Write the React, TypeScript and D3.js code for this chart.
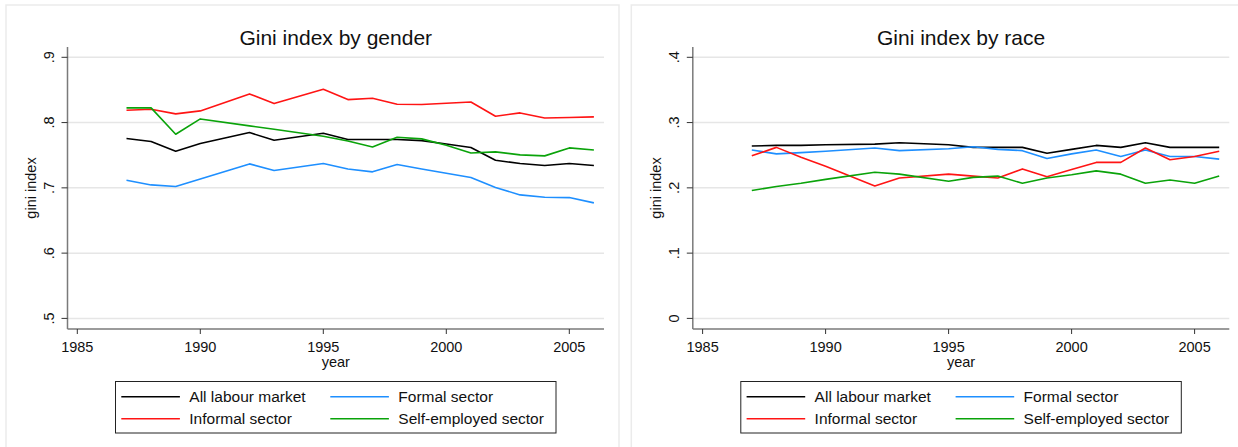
import React from 'react'
import * as d3 from 'd3'

// years with data (1991 and 1994 have no survey point)
const years = [1987, 1988, 1989, 1990, 1992, 1993, 1995, 1996, 1997, 1998, 1999, 2000, 2001, 2002, 2003, 2004, 2005, 2006]

const seriesNames = ['All labour market', 'Formal sector', 'Informal sector', 'Self-employed sector']
const seriesColors = ['#000000', '#1e8fff', '#ff1414', '#0aa30a']

// Gini index by gender
const genderAll = [0.7755, 0.7709, 0.7561, 0.7678, 0.7847, 0.7729, 0.7837, 0.774, 0.774, 0.774, 0.7724, 0.7673, 0.7617, 0.7423, 0.7372, 0.7342, 0.7372, 0.7342]
const genderFormal = [0.7117, 0.7045, 0.702, 0.7137, 0.7367, 0.7265, 0.7372, 0.729, 0.7245, 0.7357, 0.729, 0.7224, 0.7158, 0.7005, 0.6892, 0.6857, 0.6851, 0.677]
const genderInformal = [0.8189, 0.8204, 0.8133, 0.8179, 0.8439, 0.8291, 0.851, 0.8352, 0.8373, 0.8281, 0.8276, 0.8296, 0.8316, 0.8097, 0.8148, 0.8071, 0.8077, 0.8087]
const genderSelf = [0.8225, 0.8225, 0.7821, 0.8056, 0.7949, 0.7898, 0.7791, 0.7719, 0.7627, 0.7775, 0.775, 0.7653, 0.7535, 0.7551, 0.7505, 0.749, 0.7612, 0.7581]

// Gini index by race
const raceAll = [0.264, 0.265, 0.265, 0.266, 0.267, 0.269, 0.266, 0.262, 0.262, 0.262, 0.253, 0.259, 0.265, 0.262, 0.269, 0.262, 0.262, 0.262]
const raceFormal = [0.258, 0.252, 0.254, 0.256, 0.261, 0.257, 0.26, 0.263, 0.259, 0.257, 0.245, 0.252, 0.258, 0.248, 0.258, 0.248, 0.248, 0.244]
const raceInformal = [0.249, 0.262, 0.247, 0.233, 0.203, 0.215, 0.221, 0.218, 0.215, 0.229, 0.217, 0.228, 0.239, 0.239, 0.261, 0.243, 0.248, 0.256]
const raceSelf = [0.196, 0.202, 0.207, 0.213, 0.224, 0.221, 0.21, 0.216, 0.218, 0.207, 0.215, 0.22, 0.226, 0.221, 0.207, 0.212, 0.207, 0.218]

const xTicks = [1985, 1990, 1995, 2000, 2005]
const genderTicks = [0.5, 0.6, 0.7, 0.8, 0.9]
const raceTicks = [0, 0.1, 0.2, 0.3, 0.4]

const FONT = '"Liberation Sans", Arial, sans-serif'

// plot frame (panel coords)
const plotLeft = 67.5
const plotRight = 604
const plotTop = 47
const plotBottom = 329

function fmtTick(v) {
    // stata style: .9, .8 ... and 0
    if (v === 0) return '0'
    return d3.format('.1f')(v).replace(/^0/, '')
}

function Panel({ ox, title, ticks, series }) {
    const x = d3.scaleLinear().domain([1985, 2005]).range([77.3, 569.3])
    const y = d3.scaleLinear().domain([ticks[0], ticks[ticks.length - 1]]).range([318.4, 57.3])

    const line = d3.line()
        .x(d => x(d[0]))
        .y(d => y(d[1]))

    const midX = (plotLeft + plotRight) / 2

    return (
        <g transform={`translate(${ox},0)`}>
            <rect x={6} y={5} width={613} height={460} fill="#fff" stroke="#ebebeb" strokeWidth={1.5}/>

            <text x={midX} y={44.5} textAnchor="middle" fontSize={21} fill="#111">{title}</text>

            {/* gridlines */}
            {ticks.map(t => (
                <line key={t} x1={plotLeft} x2={plotRight} y1={y(t)} y2={y(t)} stroke="#e6e6e6" strokeWidth={1.5}/>
            ))}

            {/* lines */}
            {series.map((s, i) => (
                <path key={i} d={line(years.map((yr, j) => [yr, s[j]]))} fill="none"
                      stroke={seriesColors[i]} strokeWidth={1.6} strokeLinejoin="round"/>
            ))}

            {/* y axis */}
            <line x1={plotLeft} x2={plotLeft} y1={plotTop} y2={plotBottom} stroke="#7a7a7a" strokeWidth={1.5}/>
            {ticks.map(t => (
                <g key={t}>
                    <line x1={plotLeft - 6} x2={plotLeft} y1={y(t)} y2={y(t)} stroke="#333" strokeWidth={1}/>
                    <text transform={`translate(54,${y(t)}) rotate(-90)`} textAnchor="middle" fontSize={14.5} fill="#111">{fmtTick(t)}</text>
                </g>
            ))}
            <text transform={`translate(36,${(plotTop + plotBottom) / 2}) rotate(-90)`} textAnchor="middle" fontSize={14.5} fill="#111">gini index</text>

            {/* x axis */}
            <line x1={plotLeft} x2={plotRight} y1={plotBottom} y2={plotBottom} stroke="#7a7a7a" strokeWidth={1.5}/>
            {xTicks.map(t => (
                <g key={t}>
                    <line x1={x(t)} x2={x(t)} y1={plotBottom} y2={plotBottom + 5} stroke="#333" strokeWidth={1}/>
                    <text x={x(t)} y={352} textAnchor="middle" fontSize={14.5} fill="#111">{t}</text>
                </g>
            ))}
            <text x={midX} y={366.5} textAnchor="middle" fontSize={14.5} fill="#111">year</text>

            {/* legend */}
            <rect x={115.5} y={381.5} width={440.5} height={51.5} fill="#fff" stroke="#222" strokeWidth={1}/>
            {seriesNames.map((name, i) => {
                const col = i % 2
                const row = Math.floor(i / 2)
                const lx = col === 0 ? 121.3 : 330.3
                const ly = row === 0 ? 396.8 : 418.8
                return (
                    <g key={name}>
                        <line x1={lx} x2={lx + 58.6} y1={ly} y2={ly} stroke={seriesColors[i]} strokeWidth={1.6}/>
                        <text x={lx + 68} y={ly + 5.5} fontSize={15.5} fill="#111">{name}</text>
                    </g>
                )
            })}
        </g>
    )
}

export default function App() {
    return (
        <svg width={1238} height={447} style={{ position: 'absolute', left: 0, top: 0, background: '#fff' }}
             fontFamily={FONT}>
            <Panel ox={0} title="Gini index by gender" ticks={genderTicks}
                   series={[genderAll, genderFormal, genderInformal, genderSelf]}/>
            <Panel ox={625.3} title="Gini index by race" ticks={raceTicks}
                   series={[raceAll, raceFormal, raceInformal, raceSelf]}/>
        </svg>
    )
}
